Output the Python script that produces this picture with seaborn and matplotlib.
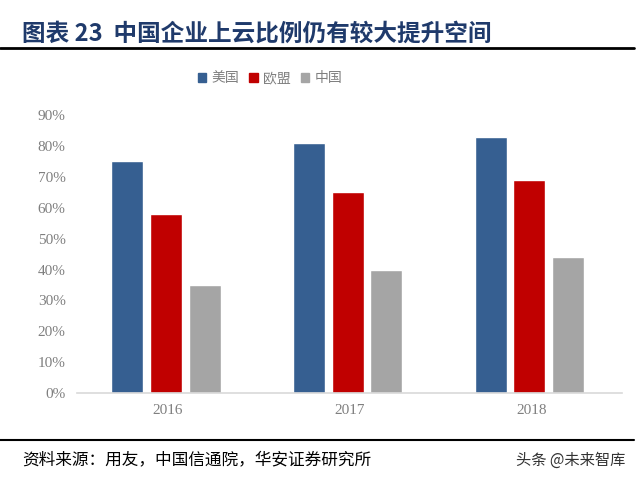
import pandas as pd
import matplotlib
matplotlib.use("Agg")
import matplotlib.pyplot as plt
import seaborn as sns
from matplotlib.lines import Line2D
from matplotlib.ticker import PercentFormatter

# datos
years = ["2016", "2017", "2018"]
regions = ["美国", "欧盟", "中国"]
usa = [75, 81, 83]
eu = [58, 65, 69]
china = [35, 40, 44]
colors = ["#365F91", "#C00000", "#A5A5A5"]

df = pd.DataFrame({
    "year": years * 3,
    "region": [regions[0]] * 3 + [regions[1]] * 3 + [regions[2]] * 3,
    "value": usa + eu + china,
})

sns.set_style("white")
plt.rcParams["font.family"] = ["Noto Sans CJK SC", "DejaVu Sans"]

fig = plt.figure(figsize=(6.4, 4.84), dpi=100)
ax = fig.add_axes([0.120, 0.188, 0.852, 0.574])

sns.barplot(data=df, x="year", y="value", hue="region", order=years,
            hue_order=regions, palette=colors, width=0.64, saturation=1,
            ax=ax, legend=False)

# barras mas delgadas con separacion
for p in ax.patches:
    c = p.get_x() + p.get_width() / 2
    p.set_width(0.176)
    p.set_x(c - 0.088 - 0.01)

ax.set_ylim(0, 90)
ax.set_xlim(-0.5, 2.5)
ax.set_yticks(range(0, 91, 10))
ax.yaxis.set_major_formatter(PercentFormatter(decimals=0))
ax.set_xlabel("")
ax.set_ylabel("")
for s in ["top", "right", "left"]:
    ax.spines[s].set_visible(False)
ax.spines["bottom"].set_color("#D9D9D9")
ax.spines["bottom"].set_linewidth(1.2)
ax.tick_params(axis="both", length=0, labelsize=11, colors="#7F7F7F", pad=8)
for lab in ax.get_xticklabels() + ax.get_yticklabels():
    lab.set_family(["Liberation Serif", "DejaVu Serif"])

handles = [plt.Rectangle((0, 0), 1, 1, color=c) for c in colors]
fig.legend(handles, regions, loc="center", bbox_to_anchor=(0.422, 0.838),
           ncol=3, frameon=False, fontsize=10, handlelength=0.6,
           handleheight=0.6, handletextpad=0.4, columnspacing=0.7,
           labelcolor="#7F7F7F")

fig.text(0.034, 0.930, "图表 23  中国企业上云比例仍有较大提升空间",
         fontsize=17, fontweight="bold", color="#1F3A6B", va="center")
fig.add_artist(Line2D([0, 0.99], [0.900, 0.900], color="black", lw=2))
fig.add_artist(Line2D([0, 0.99], [0.090, 0.090], color="black", lw=1.5))
fig.text(0.034, 0.050, "资料来源：用友，中国信通院，华安证券研究所",
         fontsize=12, color="black", va="center")
fig.text(0.977, 0.048, "头条 @未来智库", fontsize=11, color="#333333",
         va="center", ha="right")

fig.savefig("out.png", dpi=100)
